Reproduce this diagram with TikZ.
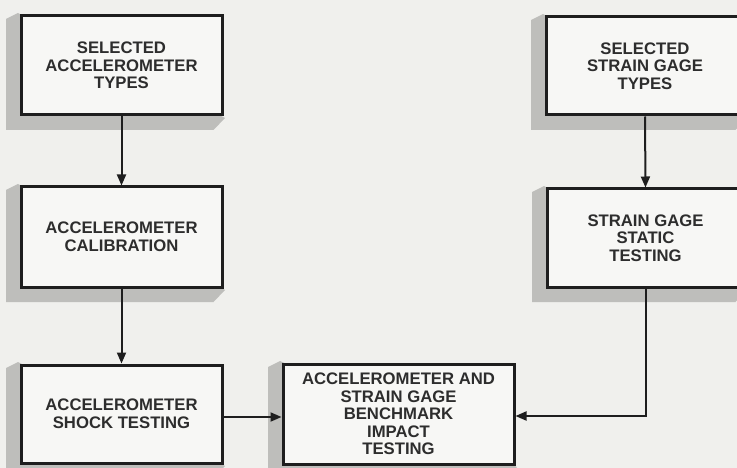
\documentclass[tikz,border=0pt]{standalone}
\usepackage{fontspec}
\setmainfont{Liberation Sans}
\usetikzlibrary{arrows.meta,backgrounds}
\definecolor{bgc}{RGB}{240,240,237}
\definecolor{boxfill}{RGB}{247,247,245}
\definecolor{boxline}{RGB}{30,30,30}
\definecolor{txt}{RGB}{45,45,45}
\definecolor{shade}{RGB}{190,190,187}
\tikzset{
  flowbox/.style={draw=boxline, line width=3pt, fill=boxfill, inner sep=0pt,
    align=center, text=txt,
    font=\fontsize{16.7}{17.6}\selectfont\bfseries},
  conn/.style={draw=boxline, line width=2pt,
    -{Triangle[length=11pt,width=9pt]}},
  boxshadow/.style={fill=shade, draw=none}
}
\newcommand{\dropshadow}[1]{%
  \fill[boxshadow] ([xshift=-1.5pt,yshift=1.5pt]#1.north west) -- ++(-12,6)
    -- ([xshift=-13.5pt,yshift=-13.5pt]#1.south west)
    -- ([xshift=-10pt,yshift=-13.5pt]#1.south east)
    -- ([xshift=1.5pt,yshift=-1.5pt]#1.south east) -- cycle;}
\begin{document}
\begin{tikzpicture}[x=1pt,y=-1pt]
\useasboundingbox (0,0) rectangle (737,468);
\clip (0,0) rectangle (737,468);

\node[flowbox, minimum width=201pt, minimum height=99pt] (b1) at (121.5,65.5)
  {SELECTED\\ACCELEROMETER\\TYPES};
\node[flowbox, minimum width=198pt, minimum height=98pt] (b2) at (645,66)
  {SELECTED\\STRAIN GAGE\\TYPES};
\node[flowbox, minimum width=201pt, minimum height=100pt] (b3) at (121.5,237)
  {ACCELEROMETER\\CALIBRATION};
\node[flowbox, minimum width=197pt, minimum height=98pt] (b4) at (645.5,238)
  {STRAIN GAGE\\STATIC\\TESTING};
\node[flowbox, minimum width=201pt, minimum height=98pt] (b5) at (121.5,414)
  {ACCELEROMETER\\SHOCK TESTING};
\node[flowbox, minimum width=231pt, minimum height=100pt] (b6) at (398.5,414)
  {ACCELEROMETER AND\\STRAIN GAGE\\BENCHMARK\\IMPACT\\TESTING};

\begin{scope}[on background layer]
  \fill[bgc] (0,0) rectangle (737,468);
  \dropshadow{b1}
  \dropshadow{b2}
  \dropshadow{b3}
  \dropshadow{b4}
  \dropshadow{b5}
  \dropshadow{b6}
\end{scope}

\draw[conn] (b1.south) -- (b3.north);
\draw[conn] (b3.south) -- (b5.north);
\draw[conn] (b2.south) -- (b4.north);
\draw[conn] ([yshift=-3pt]b5.east) -- ([yshift=-3pt]b6.west);
\draw[conn] (b4.south) |- ([yshift=-2pt]b6.east);
\end{tikzpicture}
\end{document}
